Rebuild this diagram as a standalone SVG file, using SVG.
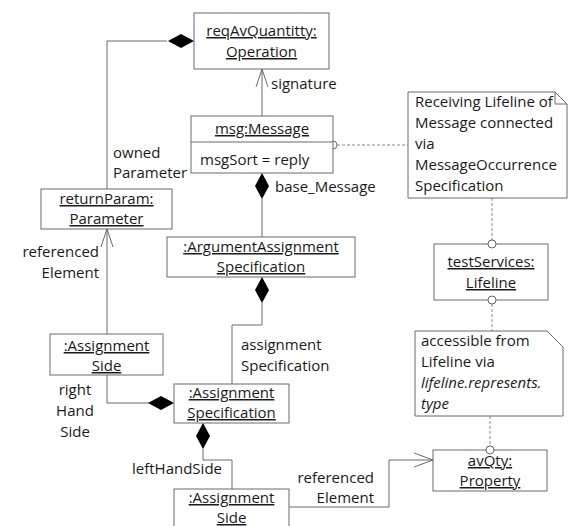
<svg xmlns="http://www.w3.org/2000/svg" width="569" height="526" viewBox="0 0 569 526">
  <style>
    .box { fill: #ffffff; stroke: #6b6b6b; stroke-width: 1; }
    .ln { fill: none; stroke: #6b6b6b; stroke-width: 1; }
    .dash { fill: none; stroke: #8a8a8a; stroke-width: 1; stroke-dasharray: 3 2; }
    .dia { fill: #000000; stroke: none; }
    .circ { fill: #ffffff; stroke: #6b6b6b; stroke-width: 1; }
    text { font-family: "Open Sans", "Liberation Sans", sans-serif; font-size: 15px; fill: #1a1a1a; }
    .c { text-anchor: middle; }
    .r { text-anchor: end; }
    .u { text-decoration: underline; }
    .i { font-style: italic; }
  </style>
  <defs>
    <path id="diamond" class="dia" d="M0,0 L13,-7 L26,0 L13,7 Z"/>
  </defs>
  <rect width="569" height="526" fill="#ffffff"/>

  <!-- connectors -->
  <g id="connectors">
    <!-- ownedParameter: operation owns returnParam -->
    <polyline class="ln" points="167,41 107,41 107,189"/>
    <use href="#diamond" transform="translate(168,41)"/>
    <text x="113" y="158">owned</text>
    <text x="113" y="178">Parameter</text>

    <!-- signature -->
    <line class="ln" x1="262" y1="116" x2="262" y2="69"/>
    <polyline class="ln" points="256,87 262,69 268,87"/>
    <text x="271" y="89">signature</text>

    <!-- base_Message -->
    <line class="ln" x1="262" y1="199" x2="262" y2="237"/>
    <use href="#diamond" transform="translate(262,173) rotate(90)"/>
    <text x="275" y="192">base_Message</text>

    <!-- assignmentSpecification -->
    <polyline class="ln" points="262,303 262,325 232,325 232,384"/>
    <use href="#diamond" transform="translate(262,277) rotate(90)"/>
    <text x="241" y="350">assignment</text>
    <text x="241" y="371">Specification</text>

    <!-- referencedElement to returnParam -->
    <line class="ln" x1="107" y1="229" x2="107" y2="334"/>
    <polyline class="ln" points="101,247 107,229 113,247"/>
    <text class="r" x="99" y="257">referenced</text>
    <text class="r" x="99" y="278">Element</text>

    <!-- rightHandSide -->
    <polyline class="ln" points="107,375 107,403 149,403"/>
    <use href="#diamond" transform="translate(148,403)"/>
    <text class="c" x="75" y="395">right</text>
    <text class="c" x="75" y="416">Hand</text>
    <text class="c" x="75" y="437">Side</text>

    <!-- leftHandSide -->
    <polyline class="ln" points="203,449 203,460 232,460 232,489"/>
    <use href="#diamond" transform="translate(203,423) rotate(90)"/>
    <text class="r" x="222" y="474">leftHandSide</text>

    <!-- referencedElement to avQty -->
    <polyline class="ln" points="289,507 389,507 389,460 433,460"/>
    <polyline class="ln" points="414,453 433,460 414,467"/>
    <text class="r" x="374" y="483">referenced</text>
    <text class="r" x="374" y="503">Element</text>

    <!-- note anchors -->
    <line class="dash" x1="337" y1="145" x2="408" y2="145"/>
    <circle class="circ" cx="333" cy="145" r="4"/>
    <line class="dash" x1="492" y1="198" x2="492" y2="240"/>
    <circle class="circ" cx="492" cy="244" r="4"/>
    <line class="dash" x1="492" y1="304" x2="492" y2="331"/>
    <circle class="circ" cx="492" cy="300" r="4"/>
    <line class="dash" x1="490" y1="416" x2="490" y2="446"/>
    <circle class="circ" cx="490" cy="450" r="4"/>
  </g>

  <g id="operation">
    <rect class="box" x="194" y="13" width="135" height="56"/>
    <text class="c u" x="261.5" y="36">reqAvQuantitty:</text>
    <text class="c u" x="261.5" y="57">Operation</text>
  </g>

  <g id="message">
    <rect class="box" x="191" y="116" width="142" height="57"/>
    <line class="ln" x1="191" y1="142" x2="333" y2="142"/>
    <text class="c u" x="262" y="134">msg:Message</text>
    <text x="200" y="165">msgSort = reply</text>
  </g>

  <g id="note-receiving">
    <path class="box" d="M408,92 H555 L567,104 V198 H408 Z"/>
    <polyline class="ln" points="555,92 555,104 567,104"/>
    <text x="415" y="107">Receiving Lifeline of</text>
    <text x="415" y="128">Message connected</text>
    <text x="415" y="149">via</text>
    <text x="415" y="170">MessageOccurrence</text>
    <text x="415" y="191">Specification</text>
  </g>

  <g id="return-param">
    <rect class="box" x="41" y="189" width="131" height="40"/>
    <text class="c u" x="106.5" y="204">returnParam:</text>
    <text class="c u" x="106.5" y="224">Parameter</text>
  </g>

  <g id="argument-assignment">
    <rect class="box" x="167" y="237" width="188" height="40"/>
    <text class="c u" x="261" y="252">:ArgumentAssignment</text>
    <text class="c u" x="261" y="272">Specification</text>
  </g>

  <g id="lifeline">
    <rect class="box" x="434" y="244" width="114" height="56"/>
    <circle class="circ" cx="492" cy="244" r="4"/>
    <circle class="circ" cx="492" cy="300" r="4"/>
    <text class="c u" x="491" y="267">testServices:</text>
    <text class="c u" x="491" y="288">Lifeline</text>
  </g>

  <g id="note-accessible">
    <path class="box" d="M415,331 H547 L563,347 V416 H415 Z"/>
    <text x="421" y="346">accessible from</text>
    <text x="421" y="367">Lifeline via</text>
    <text class="i" x="421" y="388">lifeline.represents.</text>
    <text class="i" x="421" y="409">type</text>
  </g>

  <g id="right-side">
    <rect class="box" x="50" y="334" width="113" height="41"/>
    <text class="c u" x="106.5" y="351">:Assignment</text>
    <text class="c u" x="106.5" y="371">Side</text>
  </g>

  <g id="assignment-spec">
    <rect class="box" x="174" y="384" width="115" height="39"/>
    <text class="c u" x="231.5" y="398">:Assignment</text>
    <text class="c u" x="231.5" y="418">Specification</text>
  </g>

  <g id="left-side">
    <rect class="box" x="174" y="489" width="115" height="40"/>
    <text class="c u" x="231.5" y="503">:Assignment</text>
    <text class="c u" x="231.5" y="523">Side</text>
  </g>

  <g id="property">
    <rect class="box" x="433" y="450" width="114" height="41"/>
    <circle class="circ" cx="490" cy="450" r="4"/>
    <text class="c u" x="490" y="466">avQty:</text>
    <text class="c u" x="490" y="486">Property</text>
  </g>
</svg>
